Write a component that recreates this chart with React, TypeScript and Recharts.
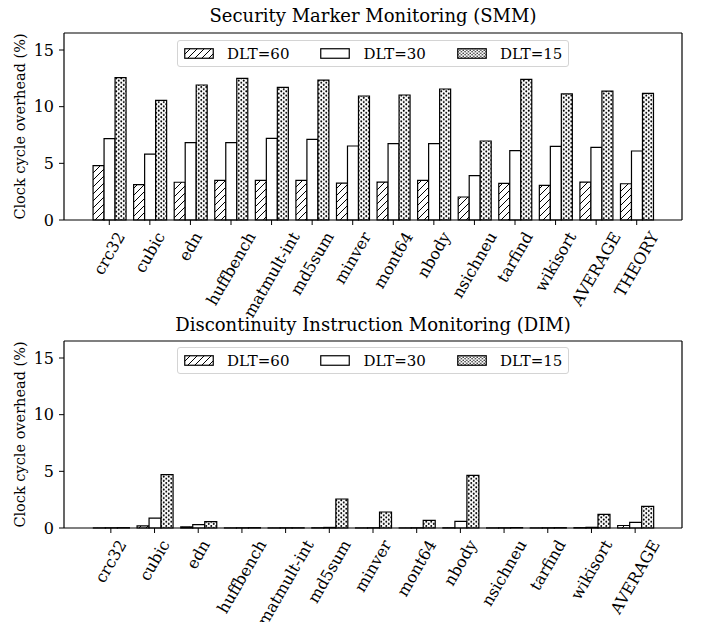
import React from 'react'
import { BarChart, Bar, XAxis, YAxis, Legend } from 'recharts'

const smmNames = ['crc32', 'cubic', 'edn', 'huffbench', 'matmult-int', 'md5sum', 'minver', 'mont64', 'nbody', 'nsichneu', 'tarfind', 'wikisort', 'AVERAGE', 'THEORY']
const smm60 = [4.79, 3.12, 3.33, 3.5, 3.5, 3.5, 3.26, 3.35, 3.5, 2.03, 3.24, 3.06, 3.35, 3.2]
const smm30 = [7.18, 5.82, 6.82, 6.82, 7.2, 7.12, 6.53, 6.74, 6.74, 3.91, 6.12, 6.5, 6.41, 6.09]
const smm15 = [12.56, 10.56, 11.91, 12.5, 11.7, 12.35, 10.94, 11.03, 11.56, 6.97, 12.41, 11.12, 11.38, 11.18]

const dimNames = ['crc32', 'cubic', 'edn', 'huffbench', 'matmult-int', 'md5sum', 'minver', 'mont64', 'nbody', 'nsichneu', 'tarfind', 'wikisort', 'AVERAGE']
const dim60 = [0.01, 0.18, 0.1, 0.01, 0.01, 0.02, 0.01, 0.01, 0.02, 0.01, 0.01, 0.03, 0.22]
const dim30 = [0.02, 0.88, 0.3, 0.02, 0.02, 0.05, 0.02, 0.02, 0.59, 0.02, 0.02, 0.06, 0.5]
const dim15 = [0.03, 4.71, 0.56, 0.03, 0.02, 2.56, 1.41, 0.68, 4.65, 0.03, 0.03, 1.21, 1.91]

const yTicks = [0, 5, 10, 15]
const legendLabels = ['DLT=60', 'DLT=30', 'DLT=15']

const FONT = "'DejaVu Serif', serif"
const TICK_FS = 16

const smmData = smmNames.map((name, i) => ({ name, d60: smm60[i], d30: smm30[i], d15: smm15[i] }))
const dimData = dimNames.map((name, i) => ({ name, d60: dim60[i], d30: dim30[i], d15: dim15[i] }))

let ctx: CanvasRenderingContext2D | null = null
const measure = (s: string) => {
  if (!ctx) ctx = document.createElement('canvas').getContext('2d')
  if (!ctx) return s.length * TICK_FS * 0.6
  ctx.font = `${TICK_FS}px 'DejaVu Serif'`
  return ctx.measureText(s).width
}

// matplotlib style: rotated 60deg, bbox centred under the tick
// eslint-disable-next-line @typescript-eslint/no-explicit-any
const AngledTick = ({ x, y, payload }: any) => {
  const L = measure(String(payload.value))
  const h = TICK_FS * 0.85
  const H = L * 0.866 + h * 0.5
  const cy = y + 3 + H / 2
  return (
    <text
      x={x}
      y={cy}
      textAnchor="middle"
      dominantBaseline="central"
      transform={`rotate(-60, ${x}, ${cy})`}
      fontSize={TICK_FS}
      fontFamily={FONT}
      fill="#000"
    >
      {payload.value}
    </text>
  )
}

// eslint-disable-next-line @typescript-eslint/no-explicit-any
const YTick = ({ x, y, payload }: any) => (
  <text x={x} y={y} textAnchor="end" dominantBaseline="central" fontSize={TICK_FS} fontFamily={FONT} fill="#000">
    {payload.value}
  </text>
)

const Patterns = ({ id }: { id: string }) => (
  <defs>
    <pattern id={`${id}-hatch`} patternUnits="userSpaceOnUse" width="7" height="7">
      <rect width="7" height="7" fill="#fff" />
      <path d="M-1,1 l2,-2 M0,7 l7,-7 M6,8 l2,-2" stroke="#000" strokeWidth="1" />
    </pattern>
    <pattern id={`${id}-dots`} patternUnits="userSpaceOnUse" width="5" height="4.3">
      <rect width="5" height="4.3" fill="#fff" />
      <circle cx="1.25" cy="1.1" r="1" fill="#000" />
      <circle cx="3.75" cy="3.25" r="1" fill="#000" />
    </pattern>
  </defs>
)

const LegendBox = ({ id }: { id: string }) => {
  const fills = [`url(#${id}-lh)`, '#fff', `url(#${id}-ld)`]
  return (
    <div
      style={{
        width: 392,
        height: 27,
        boxSizing: 'border-box',
        border: '1px solid #d4d4d4',
        borderRadius: 3,
        background: 'rgba(255,255,255,0.85)',
        display: 'flex',
        alignItems: 'center',
        fontFamily: FONT,
        fontSize: 15,
        color: '#000',
      }}
    >
      <svg width={0} height={0} style={{ position: 'absolute' }}>
        <defs>
          <pattern id={`${id}-lh`} patternUnits="userSpaceOnUse" width="7" height="7">
            <rect width="7" height="7" fill="#fff" />
            <path d="M-1,1 l2,-2 M0,7 l7,-7 M6,8 l2,-2" stroke="#000" strokeWidth="1" />
          </pattern>
          <pattern id={`${id}-ld`} patternUnits="userSpaceOnUse" width="3.5" height="3">
            <rect width="3.5" height="3" fill="#fff" />
            <circle cx="1" cy="0.8" r="0.7" fill="#000" />
            <circle cx="2.75" cy="2.3" r="0.7" fill="#000" />
          </pattern>
        </defs>
      </svg>
      {legendLabels.map((lab, i) => (
        <div key={lab} style={{ display: 'flex', alignItems: 'center', marginLeft: i === 0 ? 6 : 31 }}>
          <svg width={30} height={11}>
            <rect x={0.75} y={0.75} width={28.5} height={9.5} fill={fills[i]} stroke="#000" strokeWidth={1.2} />
          </svg>
          <span style={{ marginLeft: 13 }}>{lab}</span>
        </div>
      ))}
    </div>
  )
}

interface PanelProps {
  id: string
  data: Record<string, unknown>[]
  height: number
  top: number
  plotTop: number
  xHeight: number
  title: string
  titleTop: number
  legendTop: number
}

const Panel: React.FC<PanelProps> = ({ id, data, height, top, plotTop, xHeight, title, titleTop, legendTop }) => (
  <div style={{ position: 'absolute', left: 0, top, width: 702, height, fontFamily: FONT }}>
    <div
      style={{
        position: 'absolute',
        left: 64,
        width: 618,
        top: titleTop,
        textAlign: 'center',
        fontFamily: FONT,
        fontSize: 18,
        lineHeight: '20px',
        color: '#000',
      }}
    >
      {title}
    </div>
    <BarChart
      width={702}
      height={height}
      data={data}
      margin={{ top: plotTop - 1, right: 19, left: 0, bottom: 0 }}
      barCategoryGap="10%"
      barGap={0}
    >
      <Patterns id={id} />
      <XAxis
        dataKey="name"
        interval={0}
        height={xHeight}
        padding={{ left: 25, right: 25 }}
        tick={<AngledTick />}
        tickSize={5}
        tickMargin={2}
        axisLine={{ stroke: '#000', strokeWidth: 1.2 }}
        tickLine={{ stroke: '#000' }}
      />
      <XAxis xAxisId="top" dataKey="name" orientation="top" height={1} tick={false} tickLine={false} axisLine={{ stroke: '#000', strokeWidth: 1.2 }} />
      <YAxis
        domain={[0, 16.5]}
        ticks={yTicks}
        width={64}
        tickSize={5}
        tickMargin={5}
        tick={<YTick />}
        axisLine={{ stroke: '#000', strokeWidth: 1.2 }}
        tickLine={{ stroke: '#000' }}
        label={{
          value: 'Clock cycle overhead (%)',
          angle: -90,
          position: 'insideLeft',
          offset: 20,
          style: { textAnchor: 'middle', fontSize: 14.5, fontFamily: FONT, fill: '#000' },
        }}
      />
      <YAxis yAxisId="right" orientation="right" width={1} domain={[0, 16.5]} tick={false} tickLine={false} axisLine={{ stroke: '#000', strokeWidth: 1.2 }} />
      <Legend
        layout="horizontal"
        verticalAlign="middle"
        content={() => <LegendBox id={id} />}
        wrapperStyle={{ top: legendTop, left: 177, width: 392 }}
      />
      <Bar dataKey="d60" name="DLT=60" fill={`url(#${id}-hatch)`} stroke="#000" strokeWidth={1.2} isAnimationActive={false} />
      <Bar dataKey="d30" name="DLT=30" fill="#fff" stroke="#000" strokeWidth={1.2} isAnimationActive={false} />
      <Bar dataKey="d15" name="DLT=15" fill={`url(#${id}-dots)`} stroke="#000" strokeWidth={1.2} isAnimationActive={false} />
    </BarChart>
  </div>
)

export default function App() {
  return (
    <div style={{ position: 'absolute', left: 0, top: 0, width: 702, height: 622, background: '#fff' }}>
      <Panel id="smm" data={smmData} top={0} plotTop={33} height={322} xHeight={102} title="Security Marker Monitoring (SMM)" titleTop={6} legendTop={40} />
      <Panel id="dim" data={dimData} top={310} plotTop={31} height={312} xHeight={94} title="Discontinuity Instruction Monitoring (DIM)" titleTop={5} legendTop={37} />
    </div>
  )
}
